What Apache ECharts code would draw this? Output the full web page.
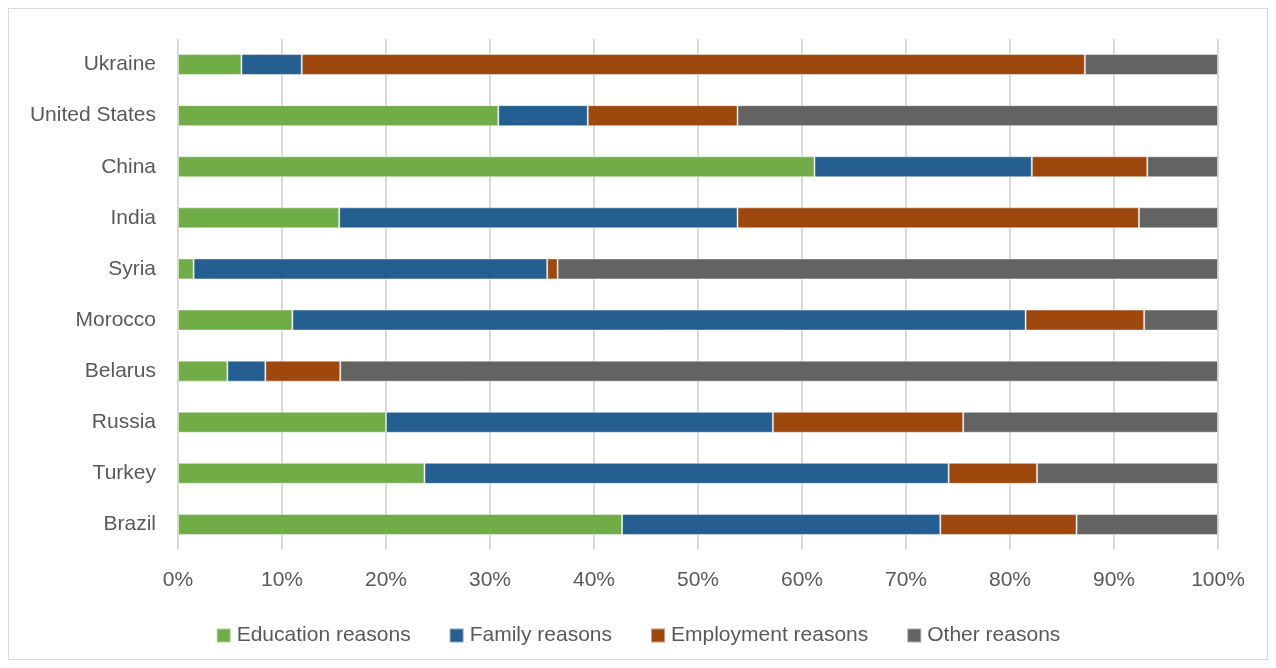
<!DOCTYPE html>
<html>
<head>
<meta charset="utf-8">
<script src="https://cdn.jsdelivr.net/npm/echarts@6/dist/echarts.min.js"></script>
<style>
html,body{margin:0;padding:0;background:#fff;}
#frame{position:absolute;left:8px;top:8px;width:1258px;height:650px;border:1px solid #d9d9d9;box-sizing:content-box;}
#chart{position:absolute;left:0;top:0;width:1276px;height:668px;}
</style>
</head>
<body>
<div id="frame"></div>
<div id="chart"></div>
<script>
// Categories listed top to bottom
const countries = ["Ukraine","United States","China","India","Syria","Morocco","Belarus","Russia","Turkey","Brazil"];
const education  = [6.1, 30.8, 61.2, 15.5, 1.5, 11.0, 4.75, 20.0, 23.7, 42.7];
const family     = [5.8,  8.6, 20.9, 38.3, 34.0, 70.5, 3.65, 37.2, 50.4, 30.6];
const employment = [75.3, 14.4, 11.1, 38.6, 1.0, 11.4, 7.2, 18.3, 8.5, 13.1];
const other      = [12.8, 46.2, 6.8, 7.6, 63.5, 7.1, 84.4, 24.5, 17.4, 13.6];
const seriesNames = ["Education reasons","Family reasons","Employment reasons","Other reasons"];
const colors = ["#70AD47","#255E91","#9E480E","#636363"];

const chart = echarts.init(document.getElementById('chart'), null, {renderer:'canvas'});
const font = "'Liberation Sans', Arial, sans-serif";
const vals = [education, family, employment, other];
chart.setOption({
  animation:false,
  grid:{left:178,right:58,top:39,bottom:118,containLabel:false},
  legend:{
    bottom:17, left:'center',
    icon:'rect', itemWidth:14, itemHeight:14, itemGap:38,
    textStyle:{color:'#595959',fontSize:21,fontFamily:font, padding:[0,0,0,1]},
    data:seriesNames
  },
  xAxis:{
    type:'value', min:0, max:100, interval:10,
    axisLabel:{formatter:'{value}%', color:'#595959', fontSize:21, fontFamily:font, margin:20},
    axisLine:{show:false}, axisTick:{show:false},
    splitLine:{show:true, lineStyle:{color:'#d9d9d9', width:2}}
  },
  yAxis:{
    type:'category', inverse:true, data:countries,
    axisLabel:{color:'#595959', fontSize:21, fontFamily:font, margin:22},
    axisLine:{show:false}, axisTick:{show:false}, splitLine:{show:false}
  },
  series: seriesNames.map((n,i)=>({
    name:n, type:'bar', stack:'total', data:vals[i], barWidth:21,
    itemStyle:{color:colors[i], borderColor:'rgba(255,255,255,0.45)', borderWidth:1}
  }))
});
</script>
</body>
</html>
